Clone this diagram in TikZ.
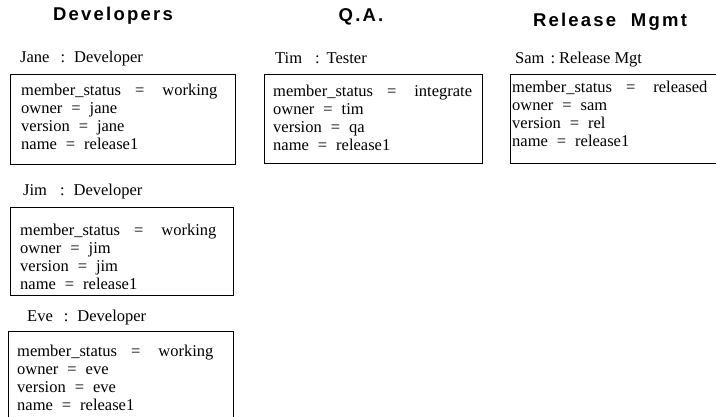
\documentclass[tikz,border=0pt]{standalone}
\usepackage{fontspec}
\setmainfont{Liberation Serif}
\newfontfamily\titlefont[LetterSpace=12]{Liberation Sans}
\newcommand{\statusline}[1]{member\_status\hspace{14pt}=\hspace{18pt}#1}
\newcommand{\attrline}[2]{#1\hspace{9pt}=\hspace{9pt}#2}
\tikzset{
  objbox/.style={draw, line width=1.4pt, inner sep=0pt, anchor=north west},
  attrs/.style={inner sep=0pt, anchor=north west, align=left, font=\fontsize{16.5}{18}\selectfont},
  objlabel/.style={inner sep=0pt, anchor=base west, font=\fontsize{16.5}{18}\selectfont},
  grouptitle/.style={inner sep=0pt, anchor=base, font=\titlefont\bfseries\fontsize{18.5}{20}\selectfont},
}
\begin{document}
\begin{tikzpicture}[x=1pt,y=-1pt]
\useasboundingbox (0,0) rectangle (716,417);
\clip (0,0) rectangle (716,417);
\fill[white] (0,0) rectangle (716,417);

% group titles
\node[grouptitle] (devtitle) at (113,21) {Developers};
\node[grouptitle] (qatitle) at (361,22) {Q.A.};
\node[grouptitle] (reltitle) at (610,27) {Release\ \ Mgmt};

% object labels
\node[objlabel] (janelbl) at (20,63) {Jane\hspace{11pt}:\hspace{9pt}Developer};
\node[objlabel] (timlbl) at (275,64) {Tim\hspace{13pt}:\hspace{7pt}Tester};
\node[objlabel] (samlbl) at (515,64) {Sam\hspace{6pt}:\hspace{4pt}Release Mgt};
\node[objlabel] (jimlbl) at (23,196) {Jim\hspace{13pt}:\hspace{9pt}Developer};
\node[objlabel] (evelbl) at (27,322) {Eve\hspace{11pt}:\hspace{9pt}Developer};

% object boxes
\node[objbox, minimum width=225pt, minimum height=90pt] (jane) at (10,74) {};
\node[objbox, minimum width=218pt, minimum height=89pt] (tim) at (264,74) {};
\node[objbox, minimum width=240pt, minimum height=89pt] (sam) at (510,74) {};
\node[objbox, minimum width=223pt, minimum height=88pt] (jim) at (10,207) {};
\node[objbox, minimum width=225pt, minimum height=110pt] (eve) at (8,331) {};

% attributes
\node[attrs] (janeattr) at ([shift={(11,10)}]jane.north west)
  {\statusline{working}\\ \attrline{owner}{jane}\\ \attrline{version}{jane}\\ \attrline{name}{release1}};
\node[attrs] (timattr) at ([shift={(9,11)}]tim.north west)
  {\statusline{integrate}\\ \attrline{owner}{tim}\\ \attrline{version}{qa}\\ \attrline{name}{release1}};
\node[attrs] (samattr) at ([shift={(2,7)}]sam.north west)
  {\statusline{released}\\ \attrline{owner}{sam}\\ \attrline{version}{rel}\\ \attrline{name}{release1}};
\node[attrs] (jimattr) at ([shift={(10,17)}]jim.north west)
  {\statusline{working}\\ \attrline{owner}{jim}\\ \attrline{version}{jim}\\ \attrline{name}{release1}};
\node[attrs] (eveattr) at ([shift={(9,14)}]eve.north west)
  {\statusline{working}\\ \attrline{owner}{eve}\\ \attrline{version}{eve}\\ \attrline{name}{release1}};
\end{tikzpicture}
\end{document}
